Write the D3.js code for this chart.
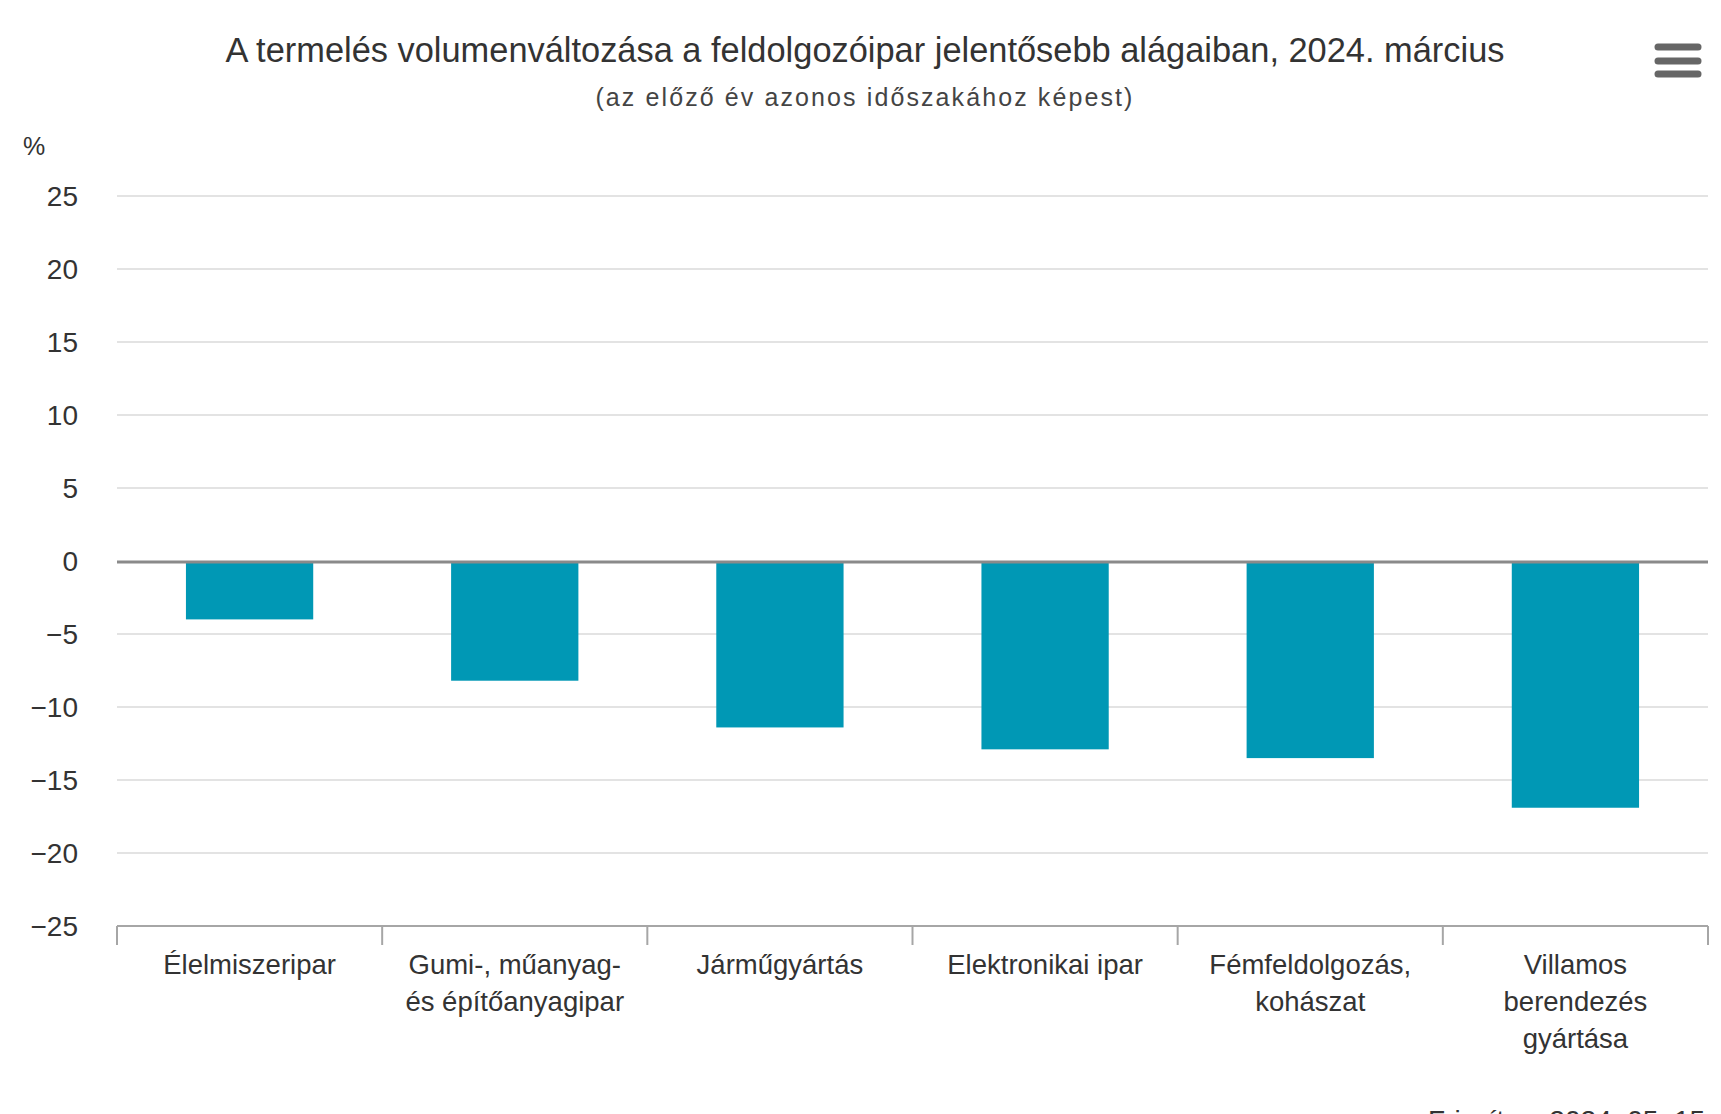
<!DOCTYPE html>
<html>
<head>
<meta charset="utf-8">
<script src="https://cdn.jsdelivr.net/npm/d3@7"></script>
<style>
  body { margin: 0; background: #fff; }
  text { font-family: "Liberation Sans", Arial, sans-serif; }
</style>
</head>
<body>
<div id="viz"></div>
<script>
var categories = ["Élelmiszeripar", "Gumi-, műanyag- és építőanyagipar", "Járműgyártás",
                  "Elektronikai ipar", "Fémfeldolgozás, kohászat", "Villamos berendezés gyártása"];
var labelLines = [["Élelmiszeripar"], ["Gumi-, műanyag-", "és építőanyagipar"], ["Járműgyártás"],
                  ["Elektronikai ipar"], ["Fémfeldolgozás,", "kohászat"], ["Villamos", "berendezés", "gyártása"]];
var values = [-4.0, -8.2, -11.4, -12.9, -13.5, -16.9];
var yTicks = [25, 20, 15, 10, 5, 0, -5, -10, -15, -20, -25];

var width = 1721,
    height = 1114,
    plotLeft = 117,
    plotRight = 1708,
    plotTop = 196,
    plotBottom = 926;

var svg = d3.select("#viz").append("svg")
    .attr("width", width)
    .attr("height", height);

var x = d3.scaleBand()
    .domain(categories)
    .range([plotLeft, plotRight]);

var y = d3.scaleLinear()
    .domain([-25, 25])
    .range([plotBottom, plotTop]);

// title + subtitle
svg.append("text")
    .attr("x", 865)
    .attr("y", 62)
    .attr("text-anchor", "middle")
    .style("font-size", "34.4px")
    .style("fill", "#333")
    .text("A termelés volumenváltozása a feldolgozóipar jelentősebb alágaiban, 2024. március");

svg.append("text")
    .attr("x", 865)
    .attr("y", 106)
    .attr("text-anchor", "middle")
    .style("font-size", "25px")
    .style("letter-spacing", "2.1px")
    .style("fill", "#444")
    .text("(az előző év azonos időszakához képest)");

// menu icon
svg.selectAll(".menu")
    .data([47, 61, 74])
    .enter().append("line")
    .attr("x1", 1658)
    .attr("x2", 1698)
    .attr("y1", function(d) { return d; })
    .attr("y2", function(d) { return d; })
    .style("stroke", "#666")
    .style("stroke-width", 7)
    .style("stroke-linecap", "round");

// grid
svg.selectAll(".grid")
    .data(yTicks.filter(function(d) { return d !== 0 && d !== -25; }))
    .enter().append("line")
    .attr("x1", plotLeft)
    .attr("x2", plotRight)
    .attr("y1", function(d) { return y(d); })
    .attr("y2", function(d) { return y(d); })
    .style("stroke", "#e3e3e3")
    .style("stroke-width", 2);

// y labels
svg.selectAll(".ylab")
    .data(yTicks)
    .enter().append("text")
    .attr("x", 78)
    .attr("y", function(d) { return y(d); })
    .attr("dy", "0.36em")
    .attr("text-anchor", "end")
    .style("font-size", "28px")
    .style("fill", "#333")
    .text(function(d) { return d < 0 ? "\u2212" + Math.abs(d) : d; });

svg.append("text")
    .attr("x", 23)
    .attr("y", 155)
    .style("font-size", "25px")
    .style("fill", "#333")
    .text("%");

// bars
svg.selectAll(".bar")
    .data(values)
    .enter().append("rect")
    .attr("x", function(d, i) { return x(categories[i]) + x.bandwidth() * 0.26; })
    .attr("width", x.bandwidth() * 0.48)
    .attr("y", function(d) { return y(Math.max(0, d)); })
    .attr("height", function(d) { return Math.abs(y(d) - y(0)); })
    .style("fill", "#0098b5");

// zero line
svg.append("line")
    .attr("x1", plotLeft)
    .attr("x2", plotRight)
    .attr("y1", y(0) + 1)
    .attr("y2", y(0) + 1)
    .style("stroke", "#8a8a8a")
    .style("stroke-width", 3);

// x axis
svg.append("line")
    .attr("x1", plotLeft)
    .attr("x2", plotRight)
    .attr("y1", plotBottom)
    .attr("y2", plotBottom)
    .style("stroke", "#a6a6a6")
    .style("stroke-width", 2);

svg.selectAll(".tick")
    .data(categories.concat(["end"]))
    .enter().append("line")
    .attr("x1", function(d, i) { return plotLeft + i * x.bandwidth(); })
    .attr("x2", function(d, i) { return plotLeft + i * x.bandwidth(); })
    .attr("y1", plotBottom)
    .attr("y2", plotBottom + 19)
    .style("stroke", "#a6a6a6")
    .style("stroke-width", 2);

var xlab = svg.selectAll(".xlab")
    .data(labelLines)
    .enter().append("text")
    .attr("text-anchor", "middle")
    .style("font-size", "27.5px")
    .style("fill", "#333");

xlab.selectAll("tspan")
    .data(function(d, i) { return d.map(function(s) { return { s: s, i: i }; }); })
    .enter().append("tspan")
    .attr("x", function(d) { return x(categories[d.i]) + x.bandwidth() / 2; })
    .attr("y", function(d, j) { return 974 + j * 37; })
    .text(function(d) { return d.s; });

// updated date, cut off by the bottom edge
svg.append("text")
    .attr("x", 1428)
    .attr("y", 1130)
    .style("font-size", "28px")
    .style("fill", "#333")
    .text("Frissítve: 2024. 05. 15.");
</script>
</body>
</html>
